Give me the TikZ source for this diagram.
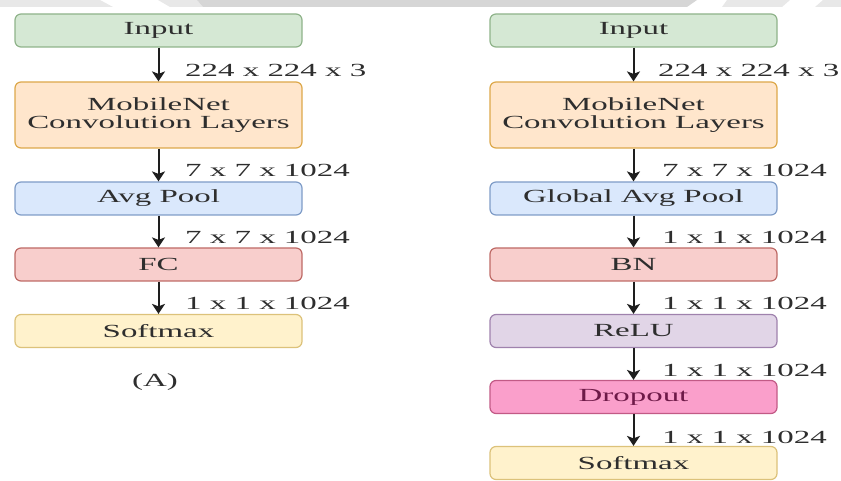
\documentclass[tikz,border=0pt]{standalone}
\usepackage{fontspec}
\setmainfont{Liberation Serif}[FakeStretch=1.78]
\usetikzlibrary{arrows.meta}
\definecolor{inF}{HTML}{D5E8D4}\definecolor{inD}{HTML}{8FB38A}
\definecolor{mbF}{HTML}{FFE6CC}\definecolor{mbD}{HTML}{DDA84A}
\definecolor{apF}{HTML}{DAE8FC}\definecolor{apD}{HTML}{7F9CC7}
\definecolor{fcF}{HTML}{F8CECC}\definecolor{fcD}{HTML}{BE6A66}
\definecolor{smF}{HTML}{FFF2CC}\definecolor{smD}{HTML}{DCC27A}
\definecolor{reF}{HTML}{E1D5E7}\definecolor{reD}{HTML}{9F82AD}
\definecolor{drF}{HTML}{FA9FCB}\definecolor{drD}{HTML}{C25A86}
\definecolor{drT}{HTML}{6E1A48}
\definecolor{txt}{HTML}{2E2E2E}
\definecolor{arrc}{HTML}{1E1E1E}
\definecolor{bandL}{HTML}{E8E8E8}
\definecolor{bandD}{HTML}{D6D6D6}
\tikzset{
  blk/.style={draw, rounded corners=6pt, line width=1.2pt, minimum width=287pt,
    minimum height=33pt, inner sep=0pt, align=center, text=txt,
    font=\fontsize{18.5}{18.5}\selectfont},
  arr/.style={-{Stealth[width=13pt,length=10pt,inset=2.5pt]}, line width=2pt, draw=arrc},
  lbl/.style={anchor=west, inner sep=0pt, text=txt, font=\fontsize{18.5}{18.5}\selectfont},
}
\begin{document}
\begin{tikzpicture}[x=1pt,y=-1pt]
\useasboundingbox (0,0) rectangle (841,481);
% top band
\fill[bandL] (0,0) -- (100,0) -- (113,7) -- (0,7) -- cycle;
\fill[bandL] (158,0) -- (197,0) -- (203,7) -- (170,7) -- cycle;
\fill[bandD] (197,0) -- (697,0) -- (687,7) -- (203,7) -- cycle;
\fill[bandL] (727,0) -- (790,0) -- (782,7) -- (722,7) -- cycle;
\fill[bandL] (823,0) -- (841,0) -- (841,7) -- (815,7) -- cycle;

% left column
\node[blk, fill=inF, draw=inD] (a1) at (158.5,30.5) {Input};
\node[blk, fill=mbF, draw=mbD, minimum height=66pt] (a2) at (158.5,115) {MobileNet\\Convolution Layers};
\node[blk, fill=apF, draw=apD] (a3) at (158.5,198.5) {Avg Pool};
\node[blk, fill=fcF, draw=fcD] (a4) at (158.5,264.5) {FC};
\node[blk, fill=smF, draw=smD] (a5) at (158.5,331) {Softmax};
\node[text=txt, inner sep=0pt, font=\fontsize{18.5}{18.5}\selectfont] (acap) at (155,382) {(A)};

\draw[arr] (a1) -- (a2);
\draw[arr] (a2) -- (a3);
\draw[arr] (a3) -- (a4);
\draw[arr] (a4) -- (a5);

\node[lbl] (la1) at (185,70) {224 x 224 x 3};
\node[lbl] (la2) at (185,170) {7 x 7 x 1024};
\node[lbl] (la3) at (185,237) {7 x 7 x 1024};
\node[lbl] (la4) at (185,303) {1 x 1 x 1024};

% right column
\node[blk, fill=inF, draw=inD] (b1) at (633.5,30.5) {Input};
\node[blk, fill=mbF, draw=mbD, minimum height=66pt] (b2) at (633.5,115) {MobileNet\\Convolution Layers};
\node[blk, fill=apF, draw=apD] (b3) at (633.5,198.5) {Global Avg Pool};
\node[blk, fill=fcF, draw=fcD] (b4) at (633.5,264.5) {BN};
\node[blk, fill=reF, draw=reD] (b5) at (633.5,331) {ReLU};
\node[blk, fill=drF, draw=drD, text=drT] (b6) at (633.5,397) {Dropout};
\node[blk, fill=smF, draw=smD] (b7) at (633.5,463) {Softmax};

\draw[arr] (b1) -- (b2);
\draw[arr] (b2) -- (b3);
\draw[arr] (b3) -- (b4);
\draw[arr] (b4) -- (b5);
\draw[arr] (b5) -- (b6);
\draw[arr] (b6) -- (b7);

\node[lbl] (lb1) at (658,70) {224 x 224 x 3};
\node[lbl] (lb2) at (662,170) {7 x 7 x 1024};
\node[lbl] (lb3) at (662,237) {1 x 1 x 1024};
\node[lbl] (lb4) at (662,303) {1 x 1 x 1024};
\node[lbl] (lb5) at (662,370) {1 x 1 x 1024};
\node[lbl] (lb6) at (662,437) {1 x 1 x 1024};
\end{tikzpicture}
\end{document}
